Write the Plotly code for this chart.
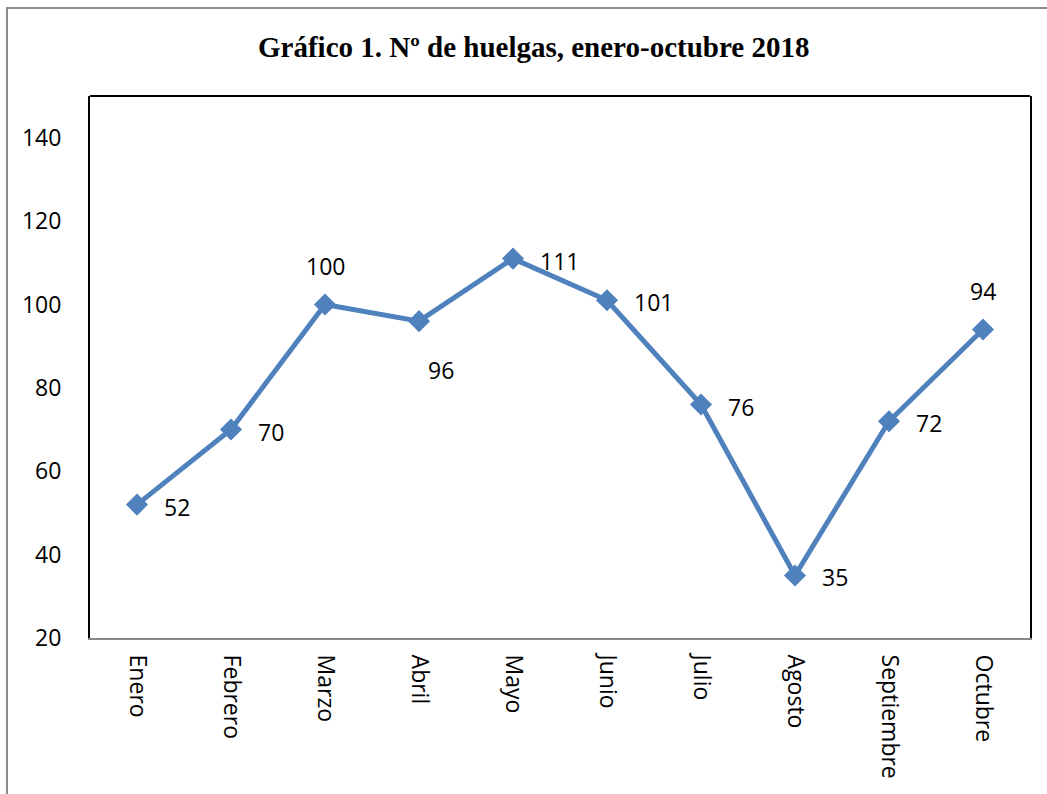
import plotly.graph_objects as go

months = ["Enero", "Febrero", "Marzo", "Abril", "Mayo", "Junio", "Julio",
          "Agosto", "Septiembre", "Octubre"]
huelgas = [52, 70, 100, 96, 111, 101, 76, 35, 72, 94]
label_pos = ["right", "right", "above", "below", "right", "right", "right",
             "right", "right", "above"]

W, H = 1047, 794
L, R, T, B = 90, 17, 96, 156
pw, ph = W - L - R, H - T - B

def px_x(x):
    return (x - L) / pw

def px_y(y):
    return (H - B - y) / ph

BLUE = "#4F81BD"
FONT = "Open Sans"

fig = go.Figure()
fig.add_trace(go.Scatter(
    x=months, y=huelgas, mode="lines+markers",
    line=dict(color=BLUE, width=5),
    marker=dict(symbol="diamond", size=17, color=BLUE),
    hoverinfo="skip", showlegend=False,
))

annotations = []
for m, v, p in zip(months, huelgas, label_pos):
    a = dict(x=m, y=v, text=str(v), showarrow=False,
             font=dict(family=FONT, size=23, color="black"))
    if p == "right":
        a.update(xanchor="left", yanchor="middle", xshift=25, yshift=-2)
    elif p == "above":
        a.update(xanchor="center", yanchor="middle", yshift=38)
    else:
        a.update(xanchor="center", yanchor="middle", yshift=-49, xshift=22)
    annotations.append(a)

annotations.append(dict(
    text="<b>Gráfico 1. Nº de huelgas, enero-octubre 2018</b>",
    x=px_x(533), y=px_y(47), xref="paper", yref="paper",
    xanchor="center", yanchor="middle", showarrow=False,
    font=dict(family="Liberation Serif", size=29, color="black")))

shapes = [
    # outer frame
    dict(type="rect", xref="paper", yref="paper",
         x0=px_x(7), y0=px_y(H + 10), x1=px_x(W + 10), y1=px_y(8),
         line=dict(color="#8C8C8C", width=2), layer="below"),
    # top border of plot area
    dict(type="line", xref="paper", yref="paper", x0=0, x1=1, y0=1, y1=1,
         line=dict(color="black", width=2)),
]

fig.update_layout(
    width=W, height=H,
    margin=dict(l=L, r=R, t=T, b=B, pad=0),
    paper_bgcolor="white", plot_bgcolor="white",
    annotations=annotations, shapes=shapes,
    xaxis=dict(showgrid=False, zeroline=False, showline=True,
               linecolor="#868686", linewidth=2, ticks="",
               tickangle=90, ticklabelstandoff=10,
               tickfont=dict(family=FONT, size=23, color="black"),
               range=[-0.5, len(months) - 0.5]),
    yaxis=dict(range=[20, 150], tickvals=[20, 40, 60, 80, 100, 120, 140],
               showgrid=False, zeroline=False, showline=True, mirror=True,
               linecolor="black", linewidth=2, ticks="",
               ticklabelstandoff=22,
               tickfont=dict(family=FONT, size=23, color="black")),
)

fig.write_html("out.html", config={"displayModeBar": False},
               post_script="document.body.style.margin='0';document.body.style.padding='0';")
